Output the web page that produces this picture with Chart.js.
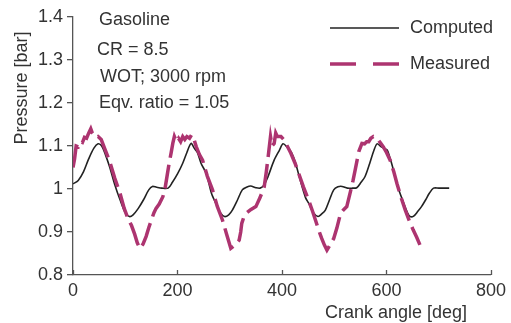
<!DOCTYPE html>
<html>
<head>
<meta charset="utf-8">
<script src="https://cdn.jsdelivr.net/npm/chart.js@4/dist/chart.umd.min.js"></script>
<style>
  html, body { margin: 0; padding: 0; background: #ffffff; }
  #wrap { width: 511px; height: 323px; position: relative; }
</style>
</head>
<body>
<div id="wrap"><canvas id="c" width="511" height="323"></canvas></div>
<script>
// Intake-manifold pressure trace vs crank angle
const computedAngle = [0,10,20,30,40,48,55,62,70,80,90,100,108,115,125,135,145,152,160,170,182,190,200,210,218,226,232,238,245,255,265,274,282,290,298,305,315,324,332,340,350,358,365,372,385,395,402,410,418,426,435,445,451,460,469,476,483,491,499,507,515,525,535,543,551,559,568,576,582,590,601,606,612,618,623,632,640,645,652,660,667,675,682,690,700,710,720];
const computedPressure = [1.012,1.02,1.04,1.07,1.095,1.105,1.1,1.08,1.052,1.01,0.975,0.945,0.936,0.94,0.955,0.975,0.998,1.006,1.004,1.002,1.002,1.015,1.035,1.06,1.085,1.106,1.095,1.085,1.06,1.036,0.99,0.965,0.945,0.936,0.94,0.951,0.975,0.998,1.004,1.007,1.003,1.002,1.008,1.025,1.067,1.09,1.105,1.097,1.085,1.06,1.02,0.98,0.967,0.945,0.936,0.942,0.951,0.975,0.998,1.005,1.006,1.002,1.002,1.003,1.015,1.029,1.06,1.09,1.105,1.098,1.091,1.075,1.05,1.02,1.0,0.97,0.945,0.936,0.937,0.948,0.959,0.975,0.99,1.002,1.002,1.002,1.002];

const measuredAngle = [0,3,6,10,14,18,22,26,30,34,37,40,44,48,54,62,70,80,90,98,105,112,118,123,128,134,140,145,150,155,159,165,172,176,180,184,188,191,194,198,202,206,210,214,218,223,227,230,236,242,248,257,267,276,286,294,302,310,318,321,323,327,331,340,350,358,366,370,374,378,381,385,388,391,398,404,410,417,425,432,441,451,458,464,470,476,481,486,492,499,505,512,518,524,531,536,540,547,553,558,562,566,570,575,582,588,594,600,607,614,620,628,636,644,651,658,664];
const measuredPressure = [1.05,1.07,1.1,1.098,1.11,1.108,1.12,1.118,1.13,1.14,1.13,1.125,1.12,1.122,1.115,1.09,1.065,1.025,0.99,0.955,0.932,0.915,0.895,0.875,0.862,0.872,0.89,0.91,0.928,0.945,0.955,0.965,0.982,1.0,1.03,1.06,1.085,1.106,1.122,1.11,1.118,1.11,1.122,1.115,1.122,1.118,1.126,1.122,1.098,1.08,1.067,1.03,0.998,0.96,0.928,0.895,0.862,0.87,0.881,0.9,0.92,0.935,0.943,0.952,0.959,0.98,1.005,1.04,1.08,1.122,1.1,1.106,1.13,1.122,1.122,1.114,1.1,1.083,1.06,1.036,1.005,0.974,0.95,0.928,0.905,0.885,0.87,0.858,0.87,0.885,0.909,0.943,0.952,0.959,0.994,1.02,1.044,1.087,1.106,1.105,1.11,1.11,1.118,1.122,1.118,1.108,1.098,1.085,1.067,1.04,1.013,0.98,0.951,0.925,0.905,0.887,0.87];

const xTickValues = [0, 200, 400, 600, 800];
const yTickValues = [0.8, 0.9, 1.0, 1.1, 1.2, 1.3, 1.4];
const yTickLabels = ['0.8', '0.9', '1', '1.1', '1.2', '1.3', '1.4'];

const seriesNames = ['Computed', 'Measured'];
const notes = ['Gasoline', 'CR = 8.5', 'WOT; 3000 rpm', 'Eqv. ratio = 1.05'];
const xTitle = 'Crank angle [deg]';
const yTitle = 'Pressure [bar]';

const FONT = '"Liberation Sans", Arial, Helvetica, sans-serif';
const TEXT = '#333333';
const AXIS = '#555555';
const MAGENTA = '#ad3470';

const zip = (xs, ys) => xs.map((x, i) => ({ x, y: ys[i] }));

// Axis titles, inward x ticks, notes and legend
const decorations = {
  id: 'decorations',
  afterDraw(chart) {
    const ctx = chart.ctx;
    const xs = chart.scales.x;
    const area = chart.chartArea;
    ctx.save();

    // x ticks pointing into the plot
    ctx.strokeStyle = AXIS;
    ctx.lineWidth = 1.3;
    xTickValues.forEach(v => {
      const px = Math.round(xs.getPixelForValue(v)) + 0.5;
      ctx.beginPath();
      ctx.moveTo(px, area.bottom);
      ctx.lineTo(px, area.bottom - 5);
      ctx.stroke();
    });

    ctx.fillStyle = TEXT;
    ctx.font = '18px ' + FONT;
    ctx.textBaseline = 'middle';

    // x-axis title
    ctx.textAlign = 'right';
    ctx.fillText(xTitle, 467, 313);

    // y-axis title
    ctx.save();
    ctx.translate(22, 88);
    ctx.rotate(-Math.PI / 2);
    ctx.textAlign = 'center';
    ctx.fillText(yTitle, 0, 0);
    ctx.restore();

    // notes block
    ctx.textAlign = 'left';
    const noteX = [99, 97, 100, 99];
    const noteY = [20, 50, 77, 103];
    notes.forEach((t, i) => ctx.fillText(t, noteX[i], noteY[i]));

    // legend
    const legY = [28, 64];
    chart.data.datasets.forEach((ds, i) => {
      ctx.save();
      ctx.strokeStyle = ds.borderColor;
      ctx.lineWidth = ds.borderWidth;
      ctx.setLineDash(i === 1 ? [26, 17] : []);
      ctx.beginPath();
      ctx.moveTo(330, legY[i]);
      ctx.lineTo(399, legY[i]);
      ctx.stroke();
      ctx.restore();
      ctx.fillText(ds.label, 410, legY[i]);
    });
    ctx.restore();
  }
};

new Chart(document.getElementById('c'), {
  type: 'scatter',
  data: {
    datasets: [
      {
        label: seriesNames[0],
        data: zip(computedAngle, computedPressure),
        showLine: true,
        borderColor: '#222222',
        borderWidth: 1.6,
        pointRadius: 0,
        tension: 0.3,
        order: 2
      },
      {
        label: seriesNames[1],
        data: zip(measuredAngle, measuredPressure),
        showLine: true,
        borderColor: MAGENTA,
        borderWidth: 3.5,
        borderDash: [24, 7],
        pointRadius: 0,
        tension: 0,
        order: 1
      }
    ]
  },
  options: {
    responsive: false,
    animation: false,
    devicePixelRatio: 1,
    layout: { padding: { left: 0, right: 18, top: 17, bottom: 0 } },
    plugins: { legend: { display: false }, tooltip: { enabled: false } },
    scales: {
      x: {
        type: 'linear',
        min: 0, max: 800,
        afterBuildTicks: s => { s.ticks = xTickValues.map(v => ({ value: v })); },
        afterFit: s => { s.height = 48; },
        grid: { display: true, drawOnChartArea: false, drawTicks: false },
        border: { display: true, color: AXIS, width: 1.3 },
        ticks: { color: TEXT, font: { family: FONT, size: 18 }, padding: 5, maxRotation: 0 }
      },
      y: {
        min: 0.8, max: 1.4,
        afterBuildTicks: s => { s.ticks = yTickValues.map(v => ({ value: v })); },
        afterFit: s => { s.width = 73; },
        grid: { display: true, drawOnChartArea: false, drawTicks: true, tickLength: 6, color: AXIS, lineWidth: 1.3 },
        border: { display: true, color: AXIS, width: 1.3 },
        ticks: {
          color: TEXT, font: { family: FONT, size: 18 }, padding: 4,
          callback: (v, i) => yTickLabels[i]
        }
      }
    }
  },
  plugins: [decorations]
});
</script>
</body>
</html>
